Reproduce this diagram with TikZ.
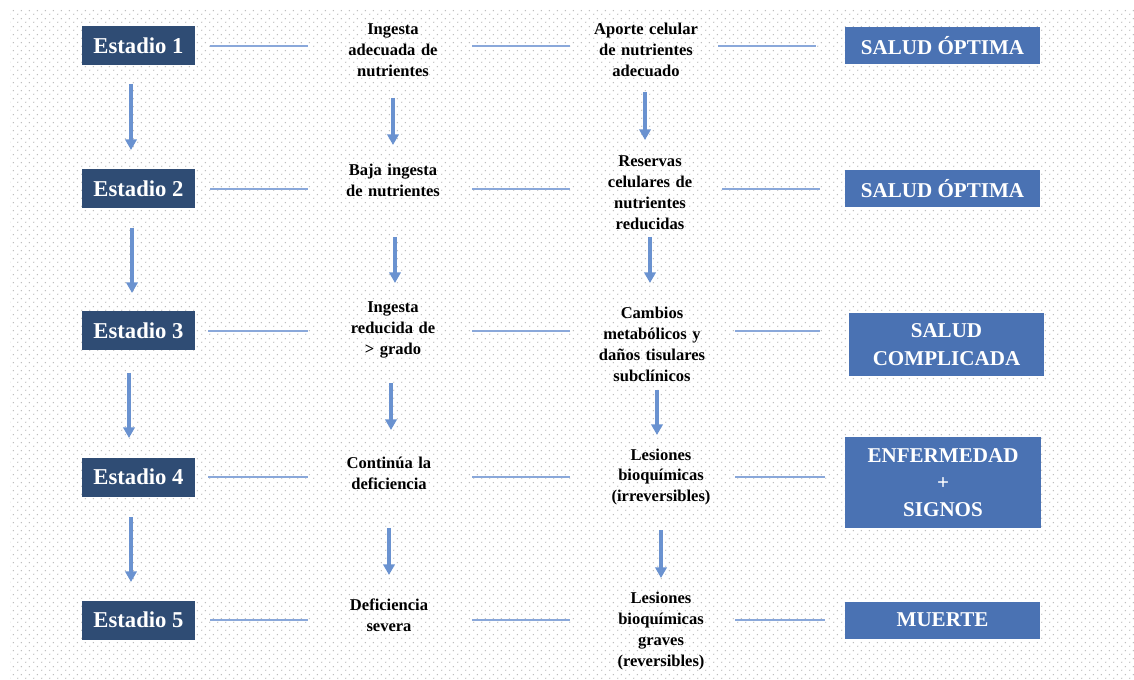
\documentclass[tikz,border=0pt]{standalone}
\usepackage{fontspec}
\setmainfont{Liberation Serif}
\usetikzlibrary{arrows.meta,patterns.meta}

\definecolor{navy}{HTML}{2F4C74}
\definecolor{stateblue}{HTML}{4A72B3}
\definecolor{linkblue}{HTML}{8AA8DA}
\definecolor{arrowblue}{HTML}{6A92D0}
\definecolor{dotgray}{HTML}{B8B8B8}

% staggered dot screen for the background
\pgfdeclarepattern{
  name=bgdots,
  type=uncolored,
  bottom left={\pgfpoint{0pt}{0pt}},
  top right={\pgfpoint{6pt}{6pt}},
  tile size={\pgfpoint{6pt}{6pt}},
  code={
    \pgfpathcircle{\pgfpoint{1.5pt}{1.5pt}}{0.6pt}
    \pgfpathcircle{\pgfpoint{4.5pt}{4.5pt}}{0.6pt}
    \pgfusepath{fill}
  }
}

\begin{document}
\begin{tikzpicture}[x=0.75pt,y=-0.75pt,
  stage/.style={fill=navy, text=white, inner sep=0pt,
    font=\fontsize{17}{20}\selectfont\bfseries,
    minimum width=84.75pt, minimum height=29.25pt},
  state/.style={fill=stateblue, text=white, inner sep=0pt, align=center,
    font=\fontsize{15.8}{20.5}\selectfont\bfseries,
    minimum width=146.25pt, minimum height=27.75pt},
  midtext/.style={inner sep=0pt, align=center, text width=90pt,
    font=\fontsize{12.4}{15.7}\selectfont\bfseries},
  celltext/.style={inner sep=0pt, align=center, text width=105pt,
    font=\fontsize{12.4}{15.7}\selectfont\bfseries},
  link/.style={linkblue, line width=1.5pt},
  flow/.style={arrowblue, line width=2.3pt,
    -{Triangle[width=8.5pt,length=8pt]}},
  trim/.style 2 args={shorten <={#1*0.75pt}, shorten >={#2*0.75pt}}
]
\useasboundingbox (0,0) rectangle (1134,680);
\fill[white] (0,0) rectangle (1134,680);
\fill[pattern=bgdots, pattern color=dotgray] (10,10) rectangle (1134,680);

% stages
\node[stage] (e1) at (138.5,46) {Estadio 1};
\node[stage] (e2) at (138.5,189) {Estadio 2};
\node[stage] (e3) at (138.5,331) {Estadio 3};
\node[stage] (e4) at (138.5,477) {Estadio 4};
\node[stage] (e5) at (138.5,620) {Estadio 5};

% intake column
\node[midtext] (m1) at (393,50) {Ingesta\\adecuada de\\nutrientes};
\node[midtext] (m2) at (393,180) {Baja ingesta\\de nutrientes};
\node[midtext] (m3) at (393,330) {Ingesta\\reducida de\\> grado};
\node[midtext] (m4) at (389,473) {Continúa la\\deficiencia};
\node[midtext] (m5) at (389,615) {Deficiencia\\severa};

% cellular column
\node[celltext] (r1) at (646,50) {Aporte celular\\de nutrientes\\adecuado};
\node[celltext] (r2) at (650,193) {Reservas\\celulares de\\nutrientes\\reducidas};
\node[celltext] (r3) at (652,344) {Cambios\\metabólicos y\\daños tisulares\\subclínicos};
\node[celltext] (r4) at (661,477) {Lesiones\\bioquímicas\\(irreversibles)};
\node[celltext] (r5) at (661,631) {Lesiones\\bioquímicas\\graves\\(reversibles)};

% health outcome
\node[state] (s1) at (942.5,45.5) {SALUD ÓPTIMA};
\node[state] (s2) at (942.5,188.5) {SALUD ÓPTIMA};
\node[state, minimum height=47.25pt] (s3) at (946.5,344.5) {SALUD\\COMPLICADA};
\node[state, minimum width=147pt, minimum height=68.25pt] (s4) at (943,482.5) {ENFERMEDAD\\+\\SIGNOS};
\node[state] (s5) at (942.5,620) {MUERTE};

% horizontal links, row by row
\draw[link, trim={15}{25}] (e1.east) -- (e1.east -| m1.west);
\draw[link, trim={19}{6}]  (m1.east |- e1.east) -- (r1.west |- e1.east);
\draw[link, trim={2}{29}]  (r1.east |- e1.east) -- (s1.west |- e1.east);

\draw[link, trim={15}{25}] (e2.east) -- (e2.east -| m2.west);
\draw[link, trim={19}{10}] (m2.east |- e2.east) -- (r2.west |- e2.east);
\draw[link, trim={2}{25}]  (r2.east |- e2.east) -- (s2.west |- e2.east);

\draw[link, trim={13}{25}] (e3.east) -- (e3.east -| m3.west);
\draw[link, trim={19}{12}] (m3.east |- e3.east) -- (r3.west |- e3.east);
\draw[link, trim={13}{29}] (r3.east |- e3.east) -- (s3.west |- e3.east);

\draw[link, trim={13}{21}] (e4.east) -- (e4.east -| m4.west);
\draw[link, trim={23}{21}] (m4.east |- e4.east) -- (r4.west |- e4.east);
\draw[link, trim={4}{20}]  (r4.east |- e4.east) -- (s4.west |- e4.east);

\draw[link, trim={15}{21}] (e5.east) -- (e5.east -| m5.west);
\draw[link, trim={23}{21}] (m5.east |- e5.east) -- (r5.west |- e5.east);
\draw[link, trim={4}{20}]  (r5.east |- e5.east) -- (s5.west |- e5.east);

% progression arrows: stages
\draw[flow, trim={38}{39}]     ([xshift=-5.625pt]e1.center) -- ([xshift=-5.625pt]e2.center);
\draw[flow, trim={39}{38}]     ([xshift=-4.875pt]e2.center) -- ([xshift=-4.875pt]e3.center);
\draw[flow, trim={42}{39}]     ([xshift=-7.125pt]e3.center) -- ([xshift=-7.125pt]e4.center);
\draw[flow, trim={40}{38}]     ([xshift=-5.625pt]e4.center) -- ([xshift=-5.625pt]e5.center);

% progression arrows: intake
\draw[flow, trim={48}{35}] (m1.center) -- (m2.center);
\draw[flow, trim={57}{47}] ([xshift=1.5pt]m2.center) -- ([xshift=1.5pt]m3.center);
\draw[flow, trim={53}{43}] ([xshift=-1.5pt]m3.center) -- ([xshift=-1.5pt]m3.center |- m4.center);
\draw[flow, trim={55}{40}] (m4.center) -- (m5.center);

% progression arrows: cellular state
\draw[flow, trim={42}{53}] ([xshift=-0.75pt]r1.center) -- ([xshift=-0.75pt]r1.center |- r2.center);
\draw[flow, trim={44}{61}] (r2.center) -- (r2.center |- r3.center);
\draw[flow, trim={46}{42}] ([xshift=3.75pt]r3.center) -- ([xshift=3.75pt]r3.center |- r4.center);
\draw[flow, trim={53}{53}] (r4.center) -- (r5.center);
\end{tikzpicture}
\end{document}
